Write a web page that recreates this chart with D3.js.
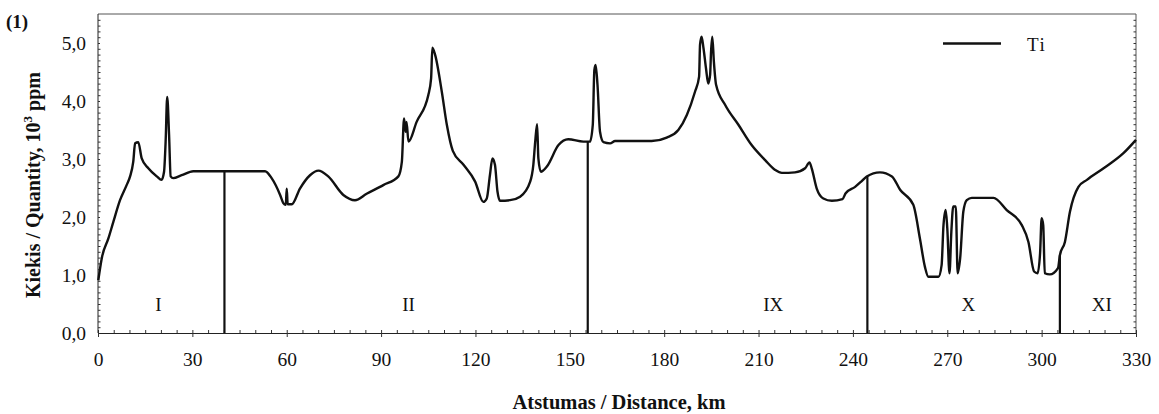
<!DOCTYPE html>
<html>
<head>
<meta charset="utf-8">
<script src="https://cdn.jsdelivr.net/npm/d3@7"></script>
<style>
  body { margin: 0; background: #fff; }
  svg text { font-family: "Liberation Serif", "DejaVu Serif", serif; fill: #111; }
</style>
</head>
<body>
<script>
'use strict';

// distance along the profile, km
const distanceKm = [
  0.1, 1.2, 3.3, 4.9, 7.0, 9.1, 10.2, 11.2, 11.8, 12.8, 13.9, 16.0, 18.7, 20.2,
  21.0, 21.5, 22.0, 22.6, 23.1, 23.9, 26.6, 30.3, 53.1, 55.2, 57.9, 58.9, 59.7,
  60.0, 60.3, 61.6, 64.2, 67.4, 70.1, 73.2, 78.0, 81.7, 85.4, 90.7, 95.5, 96.6,
  97.3, 97.8, 98.1, 98.7, 101.3, 105.0, 105.9, 106.3, 107.2, 109.3, 110.9, 112.8,
  116.2, 119.9, 122.5, 123.6, 124.6, 125.4, 126.2, 127.0, 127.8, 131.0, 134.2,
  137.4, 138.4, 139.0, 139.6, 140.0, 140.8, 142.7, 146.4, 149.5, 154.3, 156.4,
  157.3, 157.8, 158.2, 158.8, 159.6, 160.7, 162.8, 164.4, 176.0, 180.8, 184.5,
  187.2, 189.8, 191.1, 191.4, 191.9, 192.5, 193.3, 194.0, 194.6, 194.9, 195.3,
  195.8, 196.5, 199.4, 203.6, 207.8, 212.1, 215.3, 217.4, 221.6, 224.8, 226.2,
  226.9, 228.5, 230.6, 233.3, 236.7, 237.7, 240.7, 242.8, 244.4, 248.6, 252.4,
  255.0, 259.2, 261.3, 262.9, 264.0, 267.2, 268.2, 268.8, 269.5, 270.0, 270.7,
  271.3, 271.9, 272.7, 273.3, 274.1, 275.1, 276.2, 277.8, 284.7, 288.9, 293.7,
  295.8, 297.6, 298.7, 299.5, 300.0, 300.5, 301.0, 302.6, 305.2, 305.8, 307.4,
  309.0, 311.7, 314.4, 319.7, 326.0, 330.0
];

// Ti content, 10^3 ppm
const tiValues = [
  0.91, 1.29, 1.63, 1.92, 2.29, 2.55, 2.70, 2.95, 3.27, 3.29, 3.01, 2.84, 2.70, 2.64,
  2.78, 3.30, 4.07, 3.41, 2.70, 2.67, 2.72, 2.79, 2.79, 2.67, 2.38, 2.24, 2.21,
  2.49, 2.22, 2.22, 2.49, 2.72, 2.80, 2.70, 2.38, 2.29, 2.40, 2.55, 2.70, 2.95,
  3.70, 3.47, 3.64, 3.30, 3.64, 4.10, 4.39, 4.92, 4.79, 4.16, 3.59, 3.14,
  2.90, 2.61, 2.26, 2.32, 2.72, 3.01, 2.90, 2.44, 2.28, 2.29, 2.35,
  2.61, 2.90, 3.30, 3.60, 3.01, 2.78, 2.87, 3.24, 3.34, 3.30, 3.30,
  3.59, 4.53, 4.62, 4.28, 3.47, 3.29, 3.27, 3.31, 3.31, 3.37, 3.50,
  3.76, 4.16, 4.42, 4.97, 5.11, 4.91, 4.56, 4.30, 4.45, 4.85, 5.11,
  4.68, 4.28, 3.93, 3.59, 3.24, 2.98, 2.81, 2.76, 2.77, 2.84, 2.94,
  2.84, 2.49, 2.32, 2.28, 2.31, 2.41, 2.52, 2.62, 2.70, 2.77, 2.70,
  2.47, 2.21, 1.63, 1.14, 0.97, 0.97, 1.17, 1.86, 2.12, 1.81, 1.03,
  1.75, 2.18, 2.18, 1.03, 1.29, 2.09, 2.29, 2.33, 2.33, 2.12, 1.86,
  1.57, 1.06, 1.03, 1.37, 1.98, 1.86, 1.03, 1.01, 1.12, 1.34, 1.57,
  2.09, 2.52, 2.64, 2.84, 3.10, 3.33
];

// region boundaries and their heights
const boundaryKm = [40.2, 155.7, 244.6, 305.8];
const boundaryTop = [2.79, 3.30, 2.70, 1.34];

// region names
const regionLabels = ['I', 'II', 'IX', 'X', 'XI'];
const regionKm = [19.2, 98.7, 214.7, 276.7, 319.1];

const xTicks = [0, 30, 60, 90, 120, 150, 180, 210, 240, 270, 300, 330];
const yTicks = [0, 1, 2, 3, 4, 5];

(function() {

  const width = 1159, height = 414;
  const plotLeft = 98, plotRight = 1136, plotTop = 14, plotBottom = 333;

  const svg = d3.select('body').append('svg')
    .attr('width', width)
    .attr('height', height);

  const x = d3.scaleLinear().domain([0, 330]).range([plotLeft, plotRight]);
  const y = d3.scaleLinear().domain([0, 5.5]).range([plotBottom, plotTop]);

  // frame: top and right edges
  svg.append('path')
    .attr('d', `M${plotLeft},${plotTop}H${plotRight}V${plotBottom}`)
    .attr('fill', 'none')
    .attr('stroke', '#555')
    .attr('stroke-width', 1);

  // x axis, major ticks cross the line, minor ticks point up
  const xAxis = svg.append('g')
    .attr('transform', `translate(0, ${plotBottom})`)
    .call(d3.axisBottom(x).tickValues(xTicks).tickSize(4).tickPadding(15)
      .tickFormat(d3.format('d')));
  xAxis.selectAll('.tick line').attr('y1', -3);
  svg.append('g')
    .attr('transform', `translate(0, ${plotBottom})`)
    .call(d3.axisBottom(x).tickValues(d3.range(5, 330, 5).filter(d => d % 30 !== 0))
      .tickSize(-3).tickFormat(''))
    .call(g => g.select('.domain').remove());

  // y axis
  const yAxis = svg.append('g')
    .attr('transform', `translate(${plotLeft}, 0)`)
    .call(d3.axisLeft(y).tickValues(yTicks).tickSize(4).tickPadding(8)
      .tickFormat(d => d3.format('.1f')(d).replace('.', ',')));
  yAxis.select('.domain').attr('d', `M0,${plotBottom}V${plotTop}`);
  yAxis.selectAll('.tick line').attr('x2', 2);
  svg.append('g')
    .attr('transform', `translate(${plotLeft}, 0)`)
    .call(d3.axisLeft(y).tickValues(d3.range(1, 55).map(d => d / 10).filter(d => Math.abs(d - Math.round(d)) > 0.01))
      .tickSize(-2.5).tickFormat(''))
    .call(g => g.select('.domain').remove());

  // right edge ticks
  svg.append('g')
    .attr('transform', `translate(${plotRight}, 0)`)
    .call(d3.axisRight(y).tickValues(d3.range(1, 55).map(d => d / 10))
      .tickSize(-2.5).tickFormat(''))
    .call(g => g.select('.domain').remove());

  svg.selectAll('.domain').attr('stroke', '#222');
  svg.selectAll('.tick line').attr('stroke', '#333');
  svg.selectAll('.tick text')
    .attr('font-size', null)
    .style('font-size', '19.5px')
    .attr('fill', '#111');

  // region boundaries
  svg.selectAll('.boundary')
    .data(boundaryKm)
    .enter()
    .append('line')
      .attr('class', 'boundary')
      .attr('x1', d => x(d))
      .attr('x2', d => x(d))
      .attr('y1', y(0))
      .attr('y2', (d, i) => y(boundaryTop[i]))
      .attr('stroke', '#111')
      .attr('stroke-width', 2.2);

  // Ti profile
  const points = distanceKm.map((d, i) => [d, tiValues[i]]);
  const line = d3.line()
    .x(d => x(d[0]))
    .y(d => y(d[1]))
    .curve(d3.curveMonotoneX);

  svg.append('path')
    .datum(points)
    .attr('d', line)
    .attr('fill', 'none')
    .attr('stroke', '#111')
    .attr('stroke-width', 2.4)
    .attr('stroke-linejoin', 'round');

  // region labels
  svg.selectAll('.region')
    .data(regionLabels)
    .enter()
    .append('text')
      .attr('class', 'region')
      .attr('x', (d, i) => x(regionKm[i]))
      .attr('y', y(0.5))
      .attr('dy', '0.35em')
      .attr('text-anchor', 'middle')
      .style('font-size', '19px')
      .text(d => d);

  // legend
  svg.append('line')
    .attr('x1', 943).attr('x2', 1001)
    .attr('y1', 43.5).attr('y2', 43.5)
    .attr('stroke', '#111')
    .attr('stroke-width', 2.4);
  svg.append('text')
    .attr('x', 1027)
    .attr('y', 44)
    .attr('dy', '0.35em')
    .style('font-size', '19px')
    .style('letter-spacing', '1.5px')
    .text('Ti');

  // titles
  svg.append('text')
    .attr('x', 6)
    .attr('y', 28)
    .style('font-size', '19px')
    .style('font-weight', 'bold')
    .text('(1)');

  svg.append('text')
    .attr('x', 619)
    .attr('y', 409)
    .attr('text-anchor', 'middle')
    .style('font-size', '20.5px')
    .style('font-weight', 'bold')
    .text('Atstumas / Distance, km');

  const yLabel = svg.append('text')
    .attr('transform', 'translate(40, 185)rotate(-90)')
    .attr('text-anchor', 'middle')
    .style('font-size', '20px')
    .style('font-weight', 'bold');
  yLabel.append('tspan').text('Kiekis / Quantity, 10');
  yLabel.append('tspan').attr('dy', -8).style('font-size', '13px').text('3');
  yLabel.append('tspan').attr('dy', 8).text(' ppm');

})();
</script>
</body>
</html>
